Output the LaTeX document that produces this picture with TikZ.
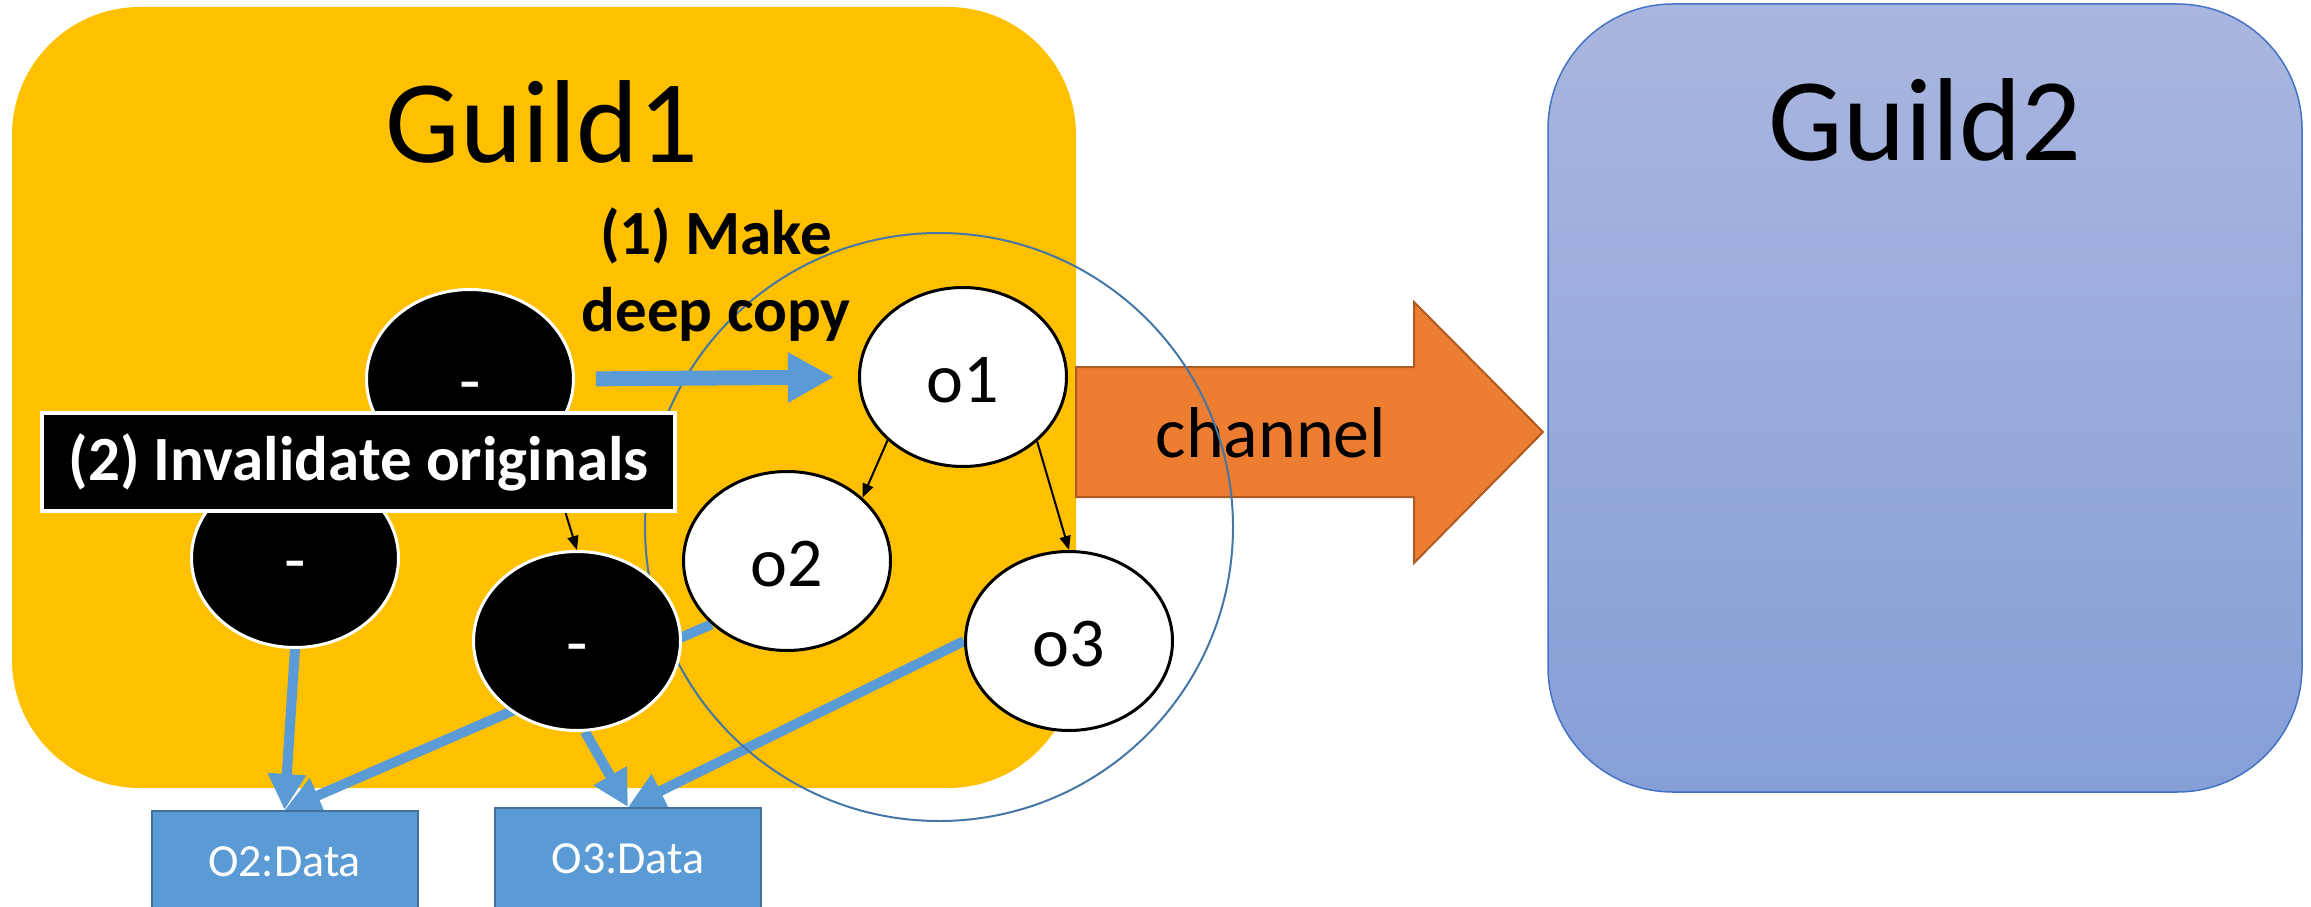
\documentclass[tikz,border=0pt]{standalone}
\usepackage{fontspec}
\setmainfont{Carlito}
\usetikzlibrary{arrows.meta,shapes.geometric}
\pgfdeclarelayer{back}
\pgfdeclarelayer{mid}
\pgfsetlayers{back,mid,main}
\definecolor{gold}{RGB}{255,192,0}
\definecolor{bluefill}{RGB}{91,155,213}
\definecolor{blueedge}{RGB}{65,113,156}
\definecolor{orangefill}{RGB}{237,125,49}
\definecolor{orangeedge}{RGB}{174,90,33}
\definecolor{circcol}{RGB}{68,118,166}
\definecolor{gtop}{RGB}{169,182,223}
\definecolor{gbot}{RGB}{134,159,215}
\definecolor{gedge}{RGB}{68,114,196}
\tikzset{
  gonebox/.style={rectangle, rounded corners=128pt, fill=gold, minimum width=1064pt, minimum height=781pt, inner sep=0pt},
  gtwobox/.style={rectangle, rounded corners=125pt, top color=gtop, bottom color=gbot, draw=gedge, line width=1.5pt, minimum width=754pt, minimum height=788pt, inner sep=0pt},
  titletext/.style={font=\fontsize{118}{140}\selectfont, inner sep=0pt},
  objbase/.style={ellipse, minimum width=207pt, minimum height=179pt, inner sep=0pt, line width=3pt, font=\fontsize{70}{84}\selectfont, text height=50pt, text depth=0pt},
  origobj/.style={objbase, fill=black, draw=white, text=white},
  copyobj/.style={objbase, fill=white, draw=black, text=black},
  thinarrow/.style={line width=2pt, black, -{Triangle[length=14pt,width=11pt]}},
  datalink/.style={line width=10pt, bluefill, -{Triangle[length=36pt,width=36pt]}},
  copyarrow/.style={line width=15pt, bluefill, -{Triangle[length=46pt,width=47pt]}},
  databox/.style={rectangle, fill=bluefill, draw=blueedge, line width=2pt, minimum width=266pt, minimum height=102pt, text=white, font=\fontsize{46}{55}\selectfont},
  chanarrow/.style={fill=orangefill, draw=orangeedge, line width=2pt, line join=miter},
  groupring/.style={circle, draw=circcol, line width=2pt, minimum size=588pt, inner sep=0pt},
  invalbox/.style={rectangle, fill=black, draw=white, line width=4pt, minimum width=633pt, minimum height=98pt, text=white, font=\bfseries\fontsize{63}{75}\selectfont, inner sep=0pt},
  stepone/.style={align=center, font=\bfseries\fontsize{63}{77}\selectfont, inner sep=0pt}
}
\begin{document}
\begin{tikzpicture}[x=1pt,y=-1pt]
\useasboundingbox (0,0) rectangle (2311,907);
\begin{pgfonlayer}{back}
  \node[gonebox] (g1) at (544,397.5) {};
  \node[gtwobox] (g2) at (1925,398) {};
  \draw[chanarrow] (1076,367) -- (1414,367) -- (1414,302) -- (1543,432) -- (1414,563) -- (1414,497) -- (1076,497) -- cycle;
  \node[font=\fontsize{72}{86}\selectfont, anchor=base, inner sep=0pt] (chan) at (1271,457) {channel};
\end{pgfonlayer}
\node[titletext, anchor=base] (t1) at (542,162) {Guild1};
\node[titletext, anchor=base] (t2) at (1925,160) {Guild2};

% originals
\node[origobj] (e1) at (470,379) {-};
\node[origobj] (e2) at (295,558) {-};
\node[origobj] (e3) at (577,641) {-};
% copies
\node[copyobj] (o1) at (963,377) {o1};
\node[copyobj] (o2) at (787,561) {o2};
\node[copyobj] (o3) at (1069,641) {o3};

% data boxes
\node[databox] (d2) at (284.5,862) {O2:Data};
\node[databox] (d3) at (628,859) {O3:Data};

\begin{pgfonlayer}{mid}
  \draw[datalink] (e2.south) -- (d2.north);
  \draw[datalink] (o2.220) -- (d2.north);
  \draw[datalink] (e3.-85) -- (d3.north);
  \draw[datalink] (o3.west) -- (d3.north);
  \node[groupring] (ring) at (939,527) {};
\end{pgfonlayer}

\draw[thinarrow] (o1.220) -- (o2.40);
\draw[thinarrow] (o1.319) -- (o3.north);
\draw[thinarrow] (e1.319) -- (e3.north);

\draw[copyarrow, shorten <=21pt, shorten >=24pt] (e1.east) -- (o1.west);

\node[invalbox] (inval) at (358.5,462) {(2) Invalidate originals};
\node[stepone] (make) at (716,275) {(1) Make\\deep copy};
\end{tikzpicture}
\end{document}
